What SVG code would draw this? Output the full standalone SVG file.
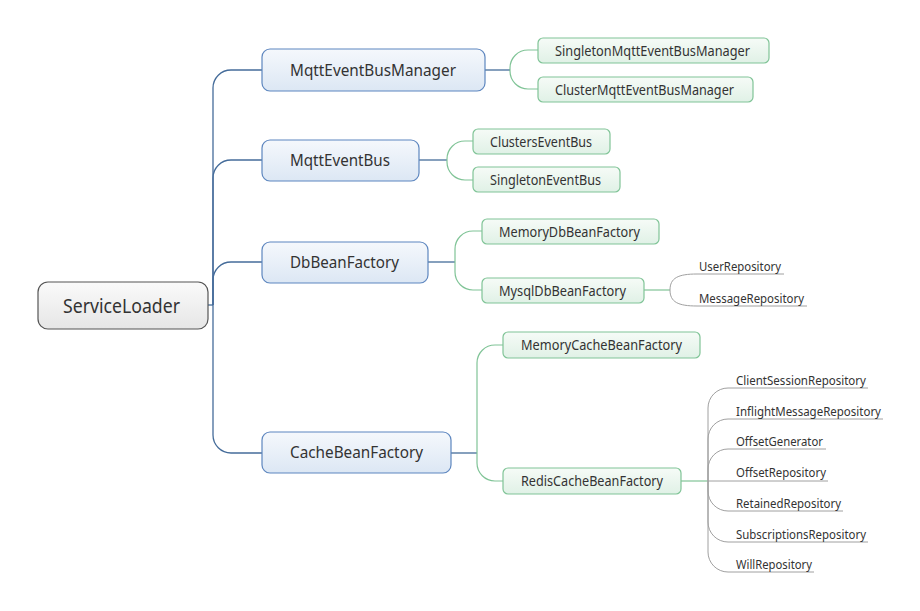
<svg xmlns="http://www.w3.org/2000/svg" width="920" height="611" viewBox="0 0 920 611">
<defs>
<linearGradient id="gRoot" x1="0" y1="0" x2="0" y2="1"><stop offset="0" stop-color="#fafafa"/><stop offset="1" stop-color="#e6e6e6"/></linearGradient>
<linearGradient id="gBlue" x1="0" y1="0" x2="0" y2="1"><stop offset="0" stop-color="#f5f8fc"/><stop offset="1" stop-color="#dce7f4"/></linearGradient>
<linearGradient id="gGreen" x1="0" y1="0" x2="0" y2="1"><stop offset="0" stop-color="#f6fbf7"/><stop offset="1" stop-color="#e0f1e6"/></linearGradient>
</defs>
<style>
text{font-family:"Noto Sans","Open Sans","Liberation Sans",sans-serif;fill:#333}
.root{fill:url(#gRoot);stroke:#555;stroke-width:1.2}
.l1{fill:url(#gBlue);stroke:#5d86bf;stroke-width:1.2}
.l2{fill:url(#gGreen);stroke:#80c497;stroke-width:1.2}
.t0{font-size:20px}
.t1{font-size:16px}
.t2{font-size:14px}
.t3{font-size:12px}
.cb{fill:none;stroke:#456c9a;stroke-width:1.3}
.cg{fill:none;stroke:#80c497;stroke-width:1.2}
.cy{fill:none;stroke:#a0a0a0;stroke-width:1}
</style>
<rect width="920" height="611" fill="#fff"/>
<g id="connectors">
<path class="cb" d="M207 305H213"/>
<path class="cb" d="M213 305V88A18 18 0 0 1 231 70H262"/>
<path class="cb" d="M213 305V178A18 18 0 0 1 231 160H262"/>
<path class="cb" d="M213 305V280A18 18 0 0 1 231 262H262"/>
<path class="cb" d="M213 305V435A18 18 0 0 0 231 453H262"/>
<path class="cb" d="M485 70H510"/>
<path class="cb" d="M419 160H447"/>
<path class="cb" d="M428 262H455"/>
<path class="cb" d="M451 453H477"/>
<path class="cg" d="M510 70V68A18 18 0 0 1 528 50H538"/>
<path class="cg" d="M510 70V71A18 18 0 0 0 528 89H538"/>
<path class="cg" d="M447 160V159A18 18 0 0 1 465 141H473"/>
<path class="cg" d="M447 160V162A18 18 0 0 0 465 180H473"/>
<path class="cg" d="M455 262V249A18 18 0 0 1 473 231H482"/>
<path class="cg" d="M455 262V272A18 18 0 0 0 473 290H482"/>
<path class="cg" d="M477 453V363A18 18 0 0 1 495 345H503"/>
<path class="cg" d="M477 453V463A18 18 0 0 0 495 481H503"/>
<path class="cg" d="M644 290H670"/>
<path class="cg" d="M681 481H708"/>
<path class="cy" d="M670 290C670 278 678 274 697 274H784"/>
<path class="cy" d="M670 290C670 302 678 306 697 306H807"/>
<path class="cy" d="M708 481H828"/>
<path class="cy" d="M708 481V408A20 20 0 0 1 728 388H868"/>
<path class="cy" d="M708 481V439A20 20 0 0 1 728 419H883"/>
<path class="cy" d="M708 481V469A20 20 0 0 1 728 449H826"/>
<path class="cy" d="M708 481V491A20 20 0 0 0 728 511H843"/>
<path class="cy" d="M708 481V522A20 20 0 0 0 728 542H868"/>
<path class="cy" d="M708 481V552A20 20 0 0 0 728 572H814"/>
</g>
<g id="n-serviceloader"><rect class="root" x="38" y="282" width="170" height="47" rx="10"/><text class="t0" x="63" y="312.5" textLength="117" lengthAdjust="spacingAndGlyphs">ServiceLoader</text></g>
<g id="n-mqtteventbusmanager"><rect class="l1" x="262" y="49" width="223" height="42" rx="8"/><text class="t1" x="290" y="75.5" textLength="166" lengthAdjust="spacingAndGlyphs">MqttEventBusManager</text></g>
<g id="n-mqtteventbus"><rect class="l1" x="262" y="140" width="157" height="41" rx="8"/><text class="t1" x="290" y="166" textLength="100" lengthAdjust="spacingAndGlyphs">MqttEventBus</text></g>
<g id="n-dbbeanfactory"><rect class="l1" x="262" y="242" width="166" height="41" rx="8"/><text class="t1" x="290" y="268" textLength="109" lengthAdjust="spacingAndGlyphs">DbBeanFactory</text></g>
<g id="n-cachebeanfactory"><rect class="l1" x="262" y="432" width="189" height="41" rx="8"/><text class="t1" x="290" y="458" textLength="133" lengthAdjust="spacingAndGlyphs">CacheBeanFactory</text></g>
<g id="n-singletonmqtteventbusmanager"><rect class="l2" x="538" y="38" width="231" height="25" rx="5"/><text class="t2" x="555" y="55.5" textLength="195" lengthAdjust="spacingAndGlyphs">SingletonMqttEventBusManager</text></g>
<g id="n-clustermqtteventbusmanager"><rect class="l2" x="538" y="77" width="215" height="25" rx="5"/><text class="t2" x="555" y="94.5" textLength="179" lengthAdjust="spacingAndGlyphs">ClusterMqttEventBusManager</text></g>
<g id="n-clusterseventbus"><rect class="l2" x="473" y="129" width="137" height="25" rx="5"/><text class="t2" x="490" y="146.5" textLength="102" lengthAdjust="spacingAndGlyphs">ClustersEventBus</text></g>
<g id="n-singletoneventbus"><rect class="l2" x="473" y="167" width="147" height="25" rx="5"/><text class="t2" x="490" y="184.5" textLength="111" lengthAdjust="spacingAndGlyphs">SingletonEventBus</text></g>
<g id="n-memorydbbeanfactory"><rect class="l2" x="482" y="219" width="177" height="25" rx="5"/><text class="t2" x="499" y="236.5" textLength="141" lengthAdjust="spacingAndGlyphs">MemoryDbBeanFactory</text></g>
<g id="n-mysqldbbeanfactory"><rect class="l2" x="482" y="278" width="162" height="25" rx="5"/><text class="t2" x="499" y="295.5" textLength="127" lengthAdjust="spacingAndGlyphs">MysqlDbBeanFactory</text></g>
<g id="n-memorycachebeanfactory"><rect class="l2" x="503" y="332" width="197" height="26" rx="5"/><text class="t2" x="521" y="350" textLength="161" lengthAdjust="spacingAndGlyphs">MemoryCacheBeanFactory</text></g>
<g id="n-rediscachebeanfactory"><rect class="l2" x="503" y="468" width="178" height="26" rx="5"/><text class="t2" x="521" y="486" textLength="142" lengthAdjust="spacingAndGlyphs">RedisCacheBeanFactory</text></g>
<g id="n-userrepository"><text class="t3" x="699" y="270.5" textLength="82" lengthAdjust="spacingAndGlyphs">UserRepository</text></g>
<g id="n-messagerepository"><text class="t3" x="699" y="302.5" textLength="105" lengthAdjust="spacingAndGlyphs">MessageRepository</text></g>
<g id="n-clientsessionrepository"><text class="t3" x="736" y="384.5" textLength="130" lengthAdjust="spacingAndGlyphs">ClientSessionRepository</text></g>
<g id="n-inflightmessagerepository"><text class="t3" x="736" y="415.5" textLength="145" lengthAdjust="spacingAndGlyphs">InflightMessageRepository</text></g>
<g id="n-offsetgenerator"><text class="t3" x="736" y="445.5" textLength="87" lengthAdjust="spacingAndGlyphs">OffsetGenerator</text></g>
<g id="n-offsetrepository"><text class="t3" x="736" y="476.5" textLength="90" lengthAdjust="spacingAndGlyphs">OffsetRepository</text></g>
<g id="n-retainedrepository"><text class="t3" x="736" y="507.5" textLength="105" lengthAdjust="spacingAndGlyphs">RetainedRepository</text></g>
<g id="n-subscriptionsrepository"><text class="t3" x="736" y="538.5" textLength="130" lengthAdjust="spacingAndGlyphs">SubscriptionsRepository</text></g>
<g id="n-willrepository"><text class="t3" x="736" y="568.5" textLength="76" lengthAdjust="spacingAndGlyphs">WillRepository</text></g>
</svg>
